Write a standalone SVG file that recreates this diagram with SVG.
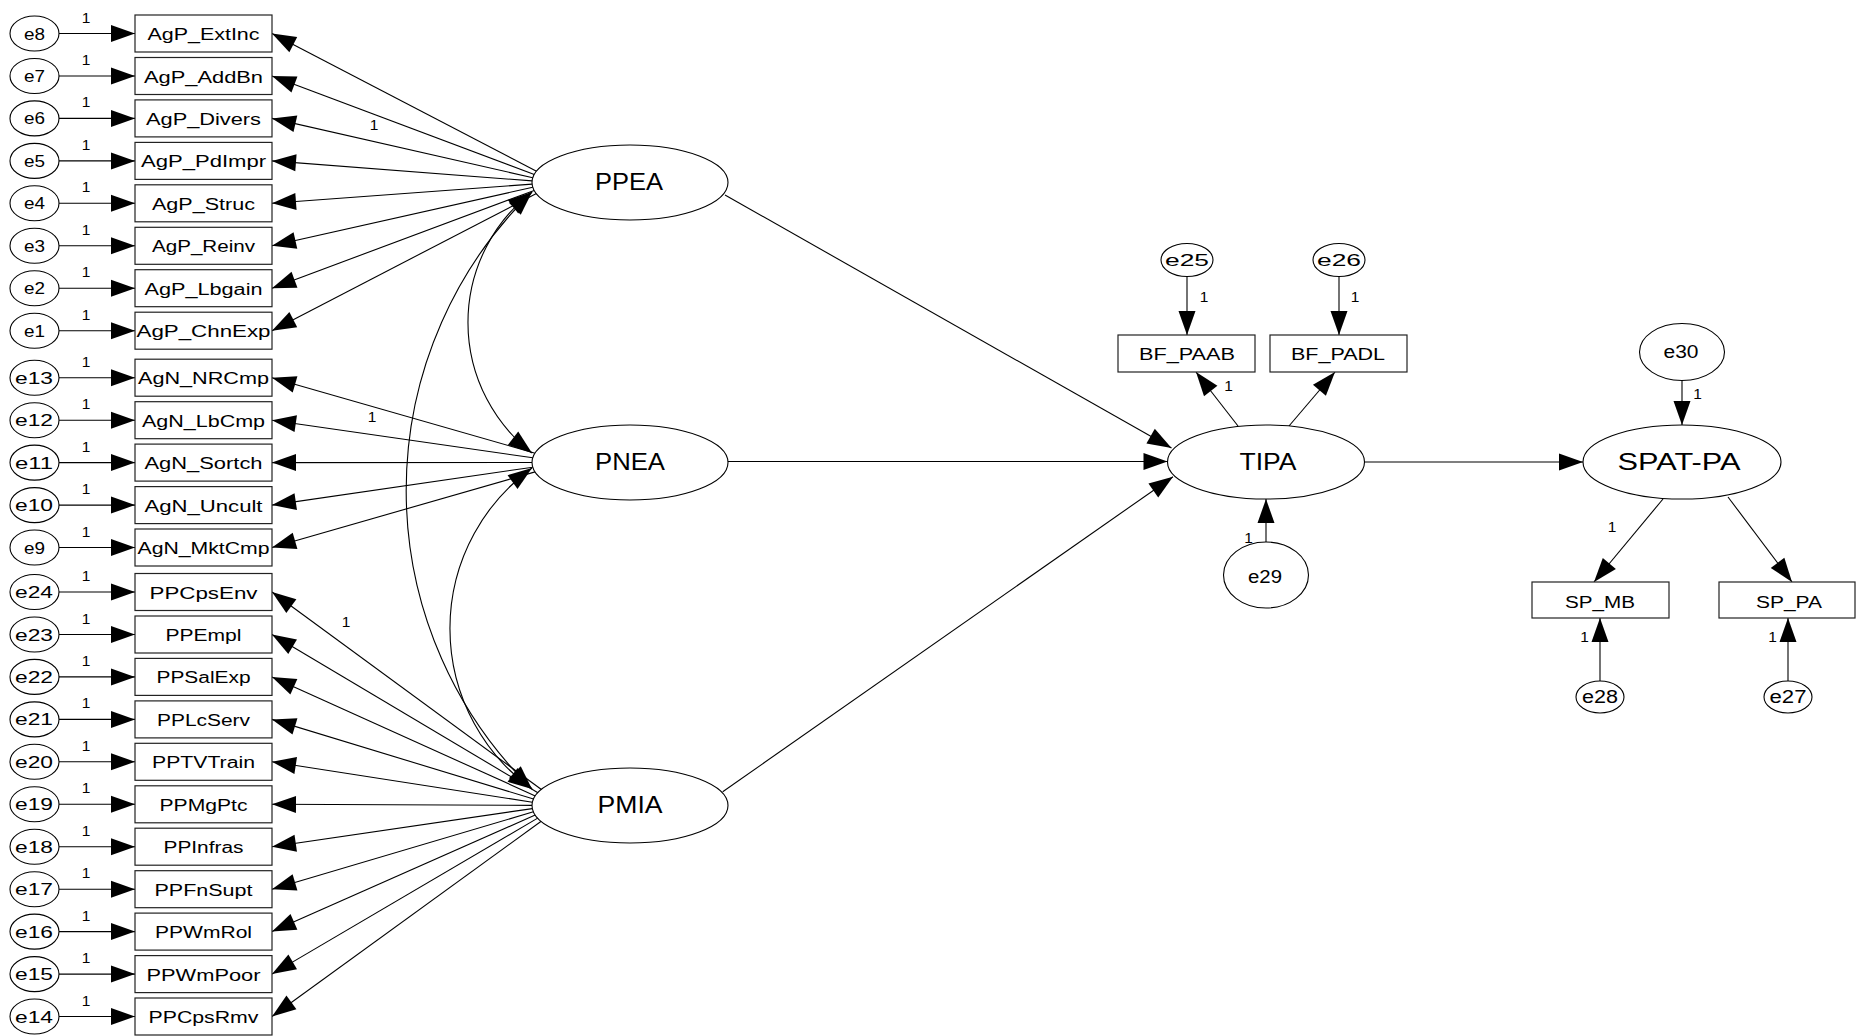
<svg xmlns="http://www.w3.org/2000/svg" width="1856" height="1036" viewBox="0 0 1856 1036">
  <style>
    .bg { fill: #ffffff; }
    .obs { fill: #ffffff; stroke: #222222; stroke-width: 1.2; }
    .lat { fill: #ffffff; stroke: #000000; stroke-width: 1.1; }
    .err { fill: #ffffff; stroke: #000000; stroke-width: 1.1; }
    .edge { fill: none; stroke: #000000; stroke-width: 1.1; marker-end: url(#ah); }
    .cov { fill: none; stroke: #000000; stroke-width: 1.1; marker-start: url(#ah); marker-end: url(#ah); }
    text { font-family: "Liberation Sans", Arial, sans-serif; fill: #000000; text-anchor: middle; }
    .t-obs { font-size: 16px; }
    .t-err { font-size: 17px; }
    .t-err2 { font-size: 18px; }
    .t-lat { font-size: 23px; }
    .t-one { font-size: 15.5px; }
  </style>
  <defs>
    <marker id="ah" viewBox="-25 -9 26 18" refX="0" refY="0" markerWidth="26" markerHeight="18" markerUnits="userSpaceOnUse" orient="auto-start-reverse">
      <path d="M0,0 L-24,-8.5 L-24,8.5 z" fill="#000000"/>
    </marker>
  </defs>
  <rect class="bg" x="0" y="0" width="1856" height="1036"/>

  <!-- connectors -->
  <g id="connectors">
    <!-- error terms to indicators -->
    <line class="edge" x1="59" y1="33.5" x2="135" y2="33.5"/>
    <line class="edge" x1="59" y1="76" x2="135" y2="76"/>
    <line class="edge" x1="59" y1="118.4" x2="135" y2="118.4"/>
    <line class="edge" x1="59" y1="160.9" x2="135" y2="160.9"/>
    <line class="edge" x1="59" y1="203.3" x2="135" y2="203.3"/>
    <line class="edge" x1="59" y1="245.8" x2="135" y2="245.8"/>
    <line class="edge" x1="59" y1="288.2" x2="135" y2="288.2"/>
    <line class="edge" x1="59" y1="330.7" x2="135" y2="330.7"/>
    <line class="edge" x1="59" y1="377.7" x2="135" y2="377.7"/>
    <line class="edge" x1="59" y1="420.2" x2="135" y2="420.2"/>
    <line class="edge" x1="59" y1="462.6" x2="135" y2="462.6"/>
    <line class="edge" x1="59" y1="505.1" x2="135" y2="505.1"/>
    <line class="edge" x1="59" y1="547.5" x2="135" y2="547.5"/>
    <line class="edge" x1="59" y1="592" x2="135" y2="592"/>
    <line class="edge" x1="59" y1="634.5" x2="135" y2="634.5"/>
    <line class="edge" x1="59" y1="676.9" x2="135" y2="676.9"/>
    <line class="edge" x1="59" y1="719.4" x2="135" y2="719.4"/>
    <line class="edge" x1="59" y1="761.8" x2="135" y2="761.8"/>
    <line class="edge" x1="59" y1="804.3" x2="135" y2="804.3"/>
    <line class="edge" x1="59" y1="846.7" x2="135" y2="846.7"/>
    <line class="edge" x1="59" y1="889.2" x2="135" y2="889.2"/>
    <line class="edge" x1="59" y1="931.6" x2="135" y2="931.6"/>
    <line class="edge" x1="59" y1="974.1" x2="135" y2="974.1"/>
    <line class="edge" x1="59" y1="1016.5" x2="135" y2="1016.5"/>

    <!-- PPEA loadings -->
    <line class="edge" x1="536.5" y1="171.3" x2="272" y2="33.5"/>
    <line class="edge" x1="534.3" y1="174.5" x2="272" y2="76"/>
    <line class="edge" x1="532.8" y1="177.7" x2="272" y2="118.4"/>
    <line class="edge" x1="532.1" y1="180.9" x2="272" y2="160.9"/>
    <line class="edge" x1="532.1" y1="184.1" x2="272" y2="203.3"/>
    <line class="edge" x1="532.8" y1="187.2" x2="272" y2="245.8"/>
    <line class="edge" x1="534.2" y1="190.4" x2="272" y2="288.2"/>
    <line class="edge" x1="536.4" y1="193.6" x2="272" y2="330.7"/>

    <!-- PNEA loadings -->
    <line class="edge" x1="535.1" y1="453.2" x2="272" y2="377.7"/>
    <line class="edge" x1="532.8" y1="457.8" x2="272" y2="420.2"/>
    <line class="edge" x1="532" y1="462.5" x2="272" y2="462.6"/>
    <line class="edge" x1="532.8" y1="467.2" x2="272" y2="505.1"/>
    <line class="edge" x1="535.1" y1="471.9" x2="272" y2="547.5"/>

    <!-- PMIA loadings -->
    <line class="edge" x1="541.4" y1="789.5" x2="272" y2="592"/>
    <line class="edge" x1="537.9" y1="792.7" x2="272" y2="634.5"/>
    <line class="edge" x1="535.3" y1="795.9" x2="272" y2="676.9"/>
    <line class="edge" x1="533.5" y1="799" x2="272" y2="719.4"/>
    <line class="edge" x1="532.4" y1="802.2" x2="272" y2="761.8"/>
    <line class="edge" x1="532" y1="805.4" x2="272" y2="804.3"/>
    <line class="edge" x1="532.3" y1="808.6" x2="272" y2="846.7"/>
    <line class="edge" x1="533.4" y1="811.8" x2="272" y2="889.2"/>
    <line class="edge" x1="535.2" y1="815" x2="272" y2="931.6"/>
    <line class="edge" x1="537.7" y1="818.1" x2="272" y2="974.1"/>
    <line class="edge" x1="541.2" y1="821.3" x2="272" y2="1016.5"/>

    <!-- covariances -->
    <path class="cov" d="M532,192 A165,165 0 0 0 532,453"/>
    <path class="cov" d="M532,192 A417,417 0 0 0 532,789"/>
    <path class="cov" d="M532,468 A198,198 0 0 0 532,789"/>

    <!-- structural paths -->
    <line class="edge" x1="725" y1="195" x2="1171.5" y2="448"/>
    <line class="edge" x1="728" y1="461.5" x2="1167.5" y2="461.5"/>
    <line class="edge" x1="722.7" y1="791.7" x2="1173" y2="476.7"/>
    <line class="edge" x1="1364.5" y1="462" x2="1583" y2="462"/>

    <!-- TIPA indicators -->
    <line class="edge" x1="1238" y1="426" x2="1196" y2="372"/>
    <line class="edge" x1="1289" y1="426" x2="1335" y2="372"/>
    <line class="edge" x1="1187" y1="276" x2="1187" y2="335"/>
    <line class="edge" x1="1339" y1="276" x2="1339" y2="335"/>
    <line class="edge" x1="1266" y1="542" x2="1266" y2="499"/>

    <!-- SPAT-PA indicators -->
    <line class="edge" x1="1682" y1="380.5" x2="1682" y2="425"/>
    <line class="edge" x1="1663" y1="499" x2="1594" y2="582"/>
    <line class="edge" x1="1728" y1="497" x2="1792" y2="582"/>
    <line class="edge" x1="1600" y1="682" x2="1600" y2="618"/>
    <line class="edge" x1="1788" y1="682" x2="1788" y2="618"/>

    <!-- path weights -->
    <g class="t-one">
      <text x="86" y="22.5">1</text>
      <text x="86" y="65">1</text>
      <text x="86" y="107.4">1</text>
      <text x="86" y="149.9">1</text>
      <text x="86" y="192.3">1</text>
      <text x="86" y="234.8">1</text>
      <text x="86" y="277.2">1</text>
      <text x="86" y="319.7">1</text>
      <text x="86" y="366.7">1</text>
      <text x="86" y="409.2">1</text>
      <text x="86" y="451.6">1</text>
      <text x="86" y="494.1">1</text>
      <text x="86" y="536.5">1</text>
      <text x="86" y="581">1</text>
      <text x="86" y="623.5">1</text>
      <text x="86" y="665.9">1</text>
      <text x="86" y="708.4">1</text>
      <text x="86" y="750.8">1</text>
      <text x="86" y="793.3">1</text>
      <text x="86" y="835.7">1</text>
      <text x="86" y="878.2">1</text>
      <text x="86" y="920.6">1</text>
      <text x="86" y="963.1">1</text>
      <text x="86" y="1005.5">1</text>
      <text x="374" y="130">1</text>
      <text x="372" y="422">1</text>
      <text x="346" y="627">1</text>
      <text x="1204" y="302">1</text>
      <text x="1355" y="302">1</text>
      <text x="1228.5" y="391">1</text>
      <text x="1248.5" y="543">1</text>
      <text x="1697.5" y="399">1</text>
      <text x="1612" y="532">1</text>
      <text x="1584.5" y="642">1</text>
      <text x="1772.5" y="642">1</text>
    </g>
  </g>

  <!-- latent variables -->
  <g id="PPEA"><ellipse class="lat" cx="630" cy="182.5" rx="98" ry="37.5"/><text class="t-lat" x="629" y="190" textLength="68" lengthAdjust="spacingAndGlyphs">PPEA</text></g>
  <g id="PNEA"><ellipse class="lat" cx="630" cy="462.5" rx="98" ry="37.5"/><text class="t-lat" x="630" y="470" textLength="70" lengthAdjust="spacingAndGlyphs">PNEA</text></g>
  <g id="PMIA"><ellipse class="lat" cx="630" cy="805.5" rx="98" ry="37.5"/><text class="t-lat" x="630" y="813" textLength="65" lengthAdjust="spacingAndGlyphs">PMIA</text></g>
  <g id="TIPA"><ellipse class="lat" cx="1266" cy="462" rx="98.5" ry="37"/><text class="t-lat" x="1268" y="470" textLength="57" lengthAdjust="spacingAndGlyphs">TIPA</text></g>
  <g id="SPAT-PA"><ellipse class="lat" cx="1682" cy="462" rx="99" ry="37"/><text class="t-lat" x="1679" y="470" textLength="123" lengthAdjust="spacingAndGlyphs">SPAT-PA</text></g>

  <!-- PPEA indicators -->
  <g id="AgP_ExtInc"><rect class="obs" x="135" y="15" width="137" height="37"/><text class="t-obs" x="203.5" y="40" textLength="112" lengthAdjust="spacingAndGlyphs">AgP_ExtInc</text></g>
  <g id="AgP_AddBn"><rect class="obs" x="135" y="57.5" width="137" height="37"/><text class="t-obs" x="203.5" y="82.5" textLength="119" lengthAdjust="spacingAndGlyphs">AgP_AddBn</text></g>
  <g id="AgP_Divers"><rect class="obs" x="135" y="99.9" width="137" height="37"/><text class="t-obs" x="203.5" y="124.9" textLength="115" lengthAdjust="spacingAndGlyphs">AgP_Divers</text></g>
  <g id="AgP_PdImpr"><rect class="obs" x="135" y="142.4" width="137" height="37"/><text class="t-obs" x="203.5" y="167.4" textLength="125" lengthAdjust="spacingAndGlyphs">AgP_PdImpr</text></g>
  <g id="AgP_Struc"><rect class="obs" x="135" y="184.8" width="137" height="37"/><text class="t-obs" x="203.5" y="209.8" textLength="103" lengthAdjust="spacingAndGlyphs">AgP_Struc</text></g>
  <g id="AgP_Reinv"><rect class="obs" x="135" y="227.3" width="137" height="37"/><text class="t-obs" x="203.5" y="252.3" textLength="103" lengthAdjust="spacingAndGlyphs">AgP_Reinv</text></g>
  <g id="AgP_Lbgain"><rect class="obs" x="135" y="269.7" width="137" height="37"/><text class="t-obs" x="203.5" y="294.7" textLength="118" lengthAdjust="spacingAndGlyphs">AgP_Lbgain</text></g>
  <g id="AgP_ChnExp"><rect class="obs" x="135" y="312.2" width="137" height="37"/><text class="t-obs" x="203.5" y="337.2" textLength="134" lengthAdjust="spacingAndGlyphs">AgP_ChnExp</text></g>

  <!-- PNEA indicators -->
  <g id="AgN_NRCmp"><rect class="obs" x="135" y="359.2" width="137" height="37"/><text class="t-obs" x="203.5" y="384.2" textLength="131" lengthAdjust="spacingAndGlyphs">AgN_NRCmp</text></g>
  <g id="AgN_LbCmp"><rect class="obs" x="135" y="401.7" width="137" height="37"/><text class="t-obs" x="203.5" y="426.7" textLength="123" lengthAdjust="spacingAndGlyphs">AgN_LbCmp</text></g>
  <g id="AgN_Sortch"><rect class="obs" x="135" y="444.1" width="137" height="37"/><text class="t-obs" x="203.5" y="469.1" textLength="118" lengthAdjust="spacingAndGlyphs">AgN_Sortch</text></g>
  <g id="AgN_Uncult"><rect class="obs" x="135" y="486.6" width="137" height="37"/><text class="t-obs" x="203.5" y="511.6" textLength="118" lengthAdjust="spacingAndGlyphs">AgN_Uncult</text></g>
  <g id="AgN_MktCmp"><rect class="obs" x="135" y="529" width="137" height="37"/><text class="t-obs" x="203.5" y="554" textLength="132" lengthAdjust="spacingAndGlyphs">AgN_MktCmp</text></g>

  <!-- PMIA indicators -->
  <g id="PPCpsEnv"><rect class="obs" x="135" y="573.5" width="137" height="37"/><text class="t-obs" x="203.5" y="598.5" textLength="108" lengthAdjust="spacingAndGlyphs">PPCpsEnv</text></g>
  <g id="PPEmpl"><rect class="obs" x="135" y="616" width="137" height="37"/><text class="t-obs" x="203.5" y="641" textLength="76" lengthAdjust="spacingAndGlyphs">PPEmpl</text></g>
  <g id="PPSalExp"><rect class="obs" x="135" y="658.4" width="137" height="37"/><text class="t-obs" x="203.5" y="683.4" textLength="94" lengthAdjust="spacingAndGlyphs">PPSalExp</text></g>
  <g id="PPLcServ"><rect class="obs" x="135" y="700.9" width="137" height="37"/><text class="t-obs" x="203.5" y="725.9" textLength="93" lengthAdjust="spacingAndGlyphs">PPLcServ</text></g>
  <g id="PPTVTrain"><rect class="obs" x="135" y="743.3" width="137" height="37"/><text class="t-obs" x="203.5" y="768.3" textLength="103" lengthAdjust="spacingAndGlyphs">PPTVTrain</text></g>
  <g id="PPMgPtc"><rect class="obs" x="135" y="785.8" width="137" height="37"/><text class="t-obs" x="203.5" y="810.8" textLength="88" lengthAdjust="spacingAndGlyphs">PPMgPtc</text></g>
  <g id="PPInfras"><rect class="obs" x="135" y="828.2" width="137" height="37"/><text class="t-obs" x="203.5" y="853.2" textLength="80" lengthAdjust="spacingAndGlyphs">PPInfras</text></g>
  <g id="PPFnSupt"><rect class="obs" x="135" y="870.7" width="137" height="37"/><text class="t-obs" x="203.5" y="895.7" textLength="98" lengthAdjust="spacingAndGlyphs">PPFnSupt</text></g>
  <g id="PPWmRol"><rect class="obs" x="135" y="913.1" width="137" height="37"/><text class="t-obs" x="203.5" y="938.1" textLength="97" lengthAdjust="spacingAndGlyphs">PPWmRol</text></g>
  <g id="PPWmPoor"><rect class="obs" x="135" y="955.6" width="137" height="37"/><text class="t-obs" x="203.5" y="980.6" textLength="114" lengthAdjust="spacingAndGlyphs">PPWmPoor</text></g>
  <g id="PPCpsRmv"><rect class="obs" x="135" y="998" width="137" height="37"/><text class="t-obs" x="203.5" y="1023" textLength="110" lengthAdjust="spacingAndGlyphs">PPCpsRmv</text></g>

  <!-- error terms, left column -->
  <g id="e8"><ellipse class="err" cx="34.5" cy="33.5" rx="24.5" ry="17.5"/><text class="t-err" x="34.5" y="39.5" textLength="21" lengthAdjust="spacingAndGlyphs">e8</text></g>
  <g id="e7"><ellipse class="err" cx="34.5" cy="76" rx="24.5" ry="17.5"/><text class="t-err" x="34.5" y="82" textLength="21" lengthAdjust="spacingAndGlyphs">e7</text></g>
  <g id="e6"><ellipse class="err" cx="34.5" cy="118.4" rx="24.5" ry="17.5"/><text class="t-err" x="34.5" y="124.4" textLength="21" lengthAdjust="spacingAndGlyphs">e6</text></g>
  <g id="e5"><ellipse class="err" cx="34.5" cy="160.9" rx="24.5" ry="17.5"/><text class="t-err" x="34.5" y="166.9" textLength="21" lengthAdjust="spacingAndGlyphs">e5</text></g>
  <g id="e4"><ellipse class="err" cx="34.5" cy="203.3" rx="24.5" ry="17.5"/><text class="t-err" x="34.5" y="209.3" textLength="21" lengthAdjust="spacingAndGlyphs">e4</text></g>
  <g id="e3"><ellipse class="err" cx="34.5" cy="245.8" rx="24.5" ry="17.5"/><text class="t-err" x="34.5" y="251.8" textLength="21" lengthAdjust="spacingAndGlyphs">e3</text></g>
  <g id="e2"><ellipse class="err" cx="34.5" cy="288.2" rx="24.5" ry="17.5"/><text class="t-err" x="34.5" y="294.2" textLength="21" lengthAdjust="spacingAndGlyphs">e2</text></g>
  <g id="e1"><ellipse class="err" cx="34.5" cy="330.7" rx="24.5" ry="17.5"/><text class="t-err" x="34.5" y="336.7" textLength="21" lengthAdjust="spacingAndGlyphs">e1</text></g>
  <g id="e13"><ellipse class="err" cx="34.5" cy="377.7" rx="24.5" ry="17.5"/><text class="t-err" x="34" y="383.7" textLength="38" lengthAdjust="spacingAndGlyphs">e13</text></g>
  <g id="e12"><ellipse class="err" cx="34.5" cy="420.2" rx="24.5" ry="17.5"/><text class="t-err" x="34" y="426.2" textLength="38" lengthAdjust="spacingAndGlyphs">e12</text></g>
  <g id="e11"><ellipse class="err" cx="34.5" cy="462.6" rx="24.5" ry="17.5"/><text class="t-err" x="34" y="468.6" textLength="38" lengthAdjust="spacingAndGlyphs">e11</text></g>
  <g id="e10"><ellipse class="err" cx="34.5" cy="505.1" rx="24.5" ry="17.5"/><text class="t-err" x="34" y="511.1" textLength="38" lengthAdjust="spacingAndGlyphs">e10</text></g>
  <g id="e9"><ellipse class="err" cx="34.5" cy="547.5" rx="24.5" ry="17.5"/><text class="t-err" x="34.5" y="553.5" textLength="21" lengthAdjust="spacingAndGlyphs">e9</text></g>
  <g id="e24"><ellipse class="err" cx="34.5" cy="592" rx="24.5" ry="17.5"/><text class="t-err" x="34" y="598" textLength="38" lengthAdjust="spacingAndGlyphs">e24</text></g>
  <g id="e23"><ellipse class="err" cx="34.5" cy="634.5" rx="24.5" ry="17.5"/><text class="t-err" x="34" y="640.5" textLength="38" lengthAdjust="spacingAndGlyphs">e23</text></g>
  <g id="e22"><ellipse class="err" cx="34.5" cy="676.9" rx="24.5" ry="17.5"/><text class="t-err" x="34" y="682.9" textLength="38" lengthAdjust="spacingAndGlyphs">e22</text></g>
  <g id="e21"><ellipse class="err" cx="34.5" cy="719.4" rx="24.5" ry="17.5"/><text class="t-err" x="34" y="725.4" textLength="38" lengthAdjust="spacingAndGlyphs">e21</text></g>
  <g id="e20"><ellipse class="err" cx="34.5" cy="761.8" rx="24.5" ry="17.5"/><text class="t-err" x="34" y="767.8" textLength="38" lengthAdjust="spacingAndGlyphs">e20</text></g>
  <g id="e19"><ellipse class="err" cx="34.5" cy="804.3" rx="24.5" ry="17.5"/><text class="t-err" x="34" y="810.3" textLength="38" lengthAdjust="spacingAndGlyphs">e19</text></g>
  <g id="e18"><ellipse class="err" cx="34.5" cy="846.7" rx="24.5" ry="17.5"/><text class="t-err" x="34" y="852.7" textLength="38" lengthAdjust="spacingAndGlyphs">e18</text></g>
  <g id="e17"><ellipse class="err" cx="34.5" cy="889.2" rx="24.5" ry="17.5"/><text class="t-err" x="34" y="895.2" textLength="38" lengthAdjust="spacingAndGlyphs">e17</text></g>
  <g id="e16"><ellipse class="err" cx="34.5" cy="931.6" rx="24.5" ry="17.5"/><text class="t-err" x="34" y="937.6" textLength="38" lengthAdjust="spacingAndGlyphs">e16</text></g>
  <g id="e15"><ellipse class="err" cx="34.5" cy="974.1" rx="24.5" ry="17.5"/><text class="t-err" x="34" y="980.1" textLength="38" lengthAdjust="spacingAndGlyphs">e15</text></g>
  <g id="e14"><ellipse class="err" cx="34.5" cy="1016.5" rx="24.5" ry="17.5"/><text class="t-err" x="34" y="1022.5" textLength="38" lengthAdjust="spacingAndGlyphs">e14</text></g>

  <!-- TIPA block -->
  <g id="BF_PAAB"><rect class="obs" x="1118" y="335" width="137" height="37"/><text class="t-obs" x="1187" y="359.5" textLength="96" lengthAdjust="spacingAndGlyphs">BF_PAAB</text></g>
  <g id="BF_PADL"><rect class="obs" x="1270" y="335" width="137" height="37"/><text class="t-obs" x="1338" y="359.5" textLength="94" lengthAdjust="spacingAndGlyphs">BF_PADL</text></g>
  <g id="e25"><ellipse class="err" cx="1187" cy="260" rx="26" ry="16.5"/><text class="t-err" x="1187" y="266" textLength="44" lengthAdjust="spacingAndGlyphs">e25</text></g>
  <g id="e26"><ellipse class="err" cx="1339" cy="260" rx="26" ry="16.5"/><text class="t-err" x="1339" y="266" textLength="44" lengthAdjust="spacingAndGlyphs">e26</text></g>
  <g id="e29"><ellipse class="err" cx="1266" cy="575" rx="42.5" ry="33"/><text class="t-err2" x="1265" y="582.5" textLength="34" lengthAdjust="spacingAndGlyphs">e29</text></g>

  <!-- SPAT-PA block -->
  <g id="e30"><ellipse class="err" cx="1682" cy="352" rx="42.5" ry="28.5"/><text class="t-err2" x="1681" y="358" textLength="35" lengthAdjust="spacingAndGlyphs">e30</text></g>
  <g id="SP_MB"><rect class="obs" x="1532" y="582" width="137" height="36"/><text class="t-obs" x="1600" y="607.5" textLength="70" lengthAdjust="spacingAndGlyphs">SP_MB</text></g>
  <g id="SP_PA"><rect class="obs" x="1719" y="582" width="136" height="36"/><text class="t-obs" x="1789" y="607.5" textLength="66" lengthAdjust="spacingAndGlyphs">SP_PA</text></g>
  <g id="e28"><ellipse class="err" cx="1600" cy="697" rx="24" ry="16"/><text class="t-err2" x="1600" y="703" textLength="36" lengthAdjust="spacingAndGlyphs">e28</text></g>
  <g id="e27"><ellipse class="err" cx="1788" cy="697" rx="24" ry="16"/><text class="t-err2" x="1788" y="703" textLength="37" lengthAdjust="spacingAndGlyphs">e27</text></g>
</svg>
